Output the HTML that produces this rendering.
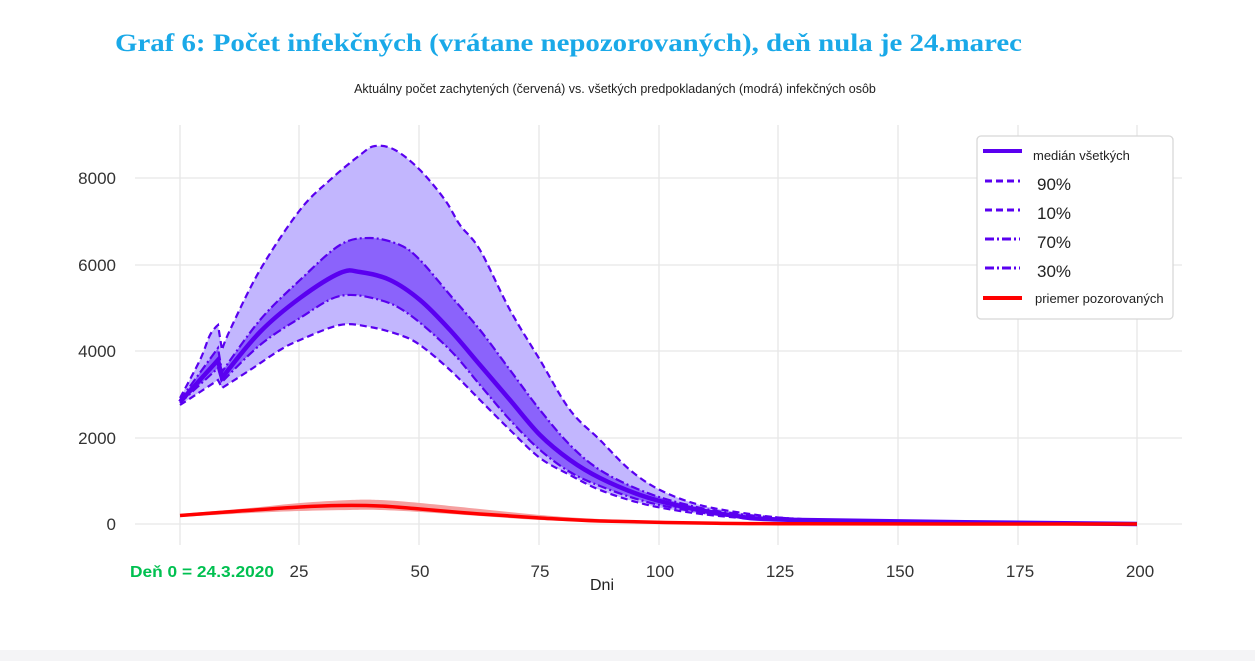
<!DOCTYPE html>
<html><head><meta charset="utf-8"><style>
body{margin:0;background:#fff;}
svg{display:block;font-family:"Liberation Sans",sans-serif;}
</style></head><body>
<svg width="1255" height="661" viewBox="0 0 1255 661">
<rect x="0" y="650" width="1255" height="11" fill="#f4f4f6"/>
<text x="115" y="51" font-family="Liberation Serif,serif" font-weight="bold" font-size="25" fill="#1aa9e8" textLength="907" lengthAdjust="spacingAndGlyphs">Graf 6: Počet infekčných (vrátane nepozorovaných), deň nula je 24.marec</text>
<text x="615" y="93" font-size="12.5" fill="#222" text-anchor="middle">Aktuálny počet zachytených (červená) vs. všetkých predpokladaných (modrá) infekčných osôb</text>
<g stroke="#e6e6e6" stroke-width="1.3">
<line x1="180" y1="125" x2="180" y2="545"/><line x1="299" y1="125" x2="299" y2="545"/><line x1="419" y1="125" x2="419" y2="545"/><line x1="539" y1="125" x2="539" y2="545"/><line x1="659" y1="125" x2="659" y2="545"/><line x1="778" y1="125" x2="778" y2="545"/><line x1="898" y1="125" x2="898" y2="545"/><line x1="1018" y1="125" x2="1018" y2="545"/><line x1="1137" y1="125" x2="1137" y2="545"/>
<line x1="135" y1="178" x2="1182" y2="178"/><line x1="135" y1="265" x2="1182" y2="265"/><line x1="135" y1="351" x2="1182" y2="351"/><line x1="135" y1="438" x2="1182" y2="438"/><line x1="135" y1="524" x2="1182" y2="524"/>
</g>
<g font-size="17" fill="#333" text-anchor="end">
<text x="116" y="184">8000</text><text x="116" y="271">6000</text><text x="116" y="357">4000</text><text x="116" y="444">2000</text><text x="116" y="530">0</text>
</g>
<g font-size="17" fill="#333" text-anchor="middle">
<text x="299" y="577">25</text><text x="420" y="577">50</text><text x="540" y="577">75</text><text x="660" y="577">100</text><text x="780" y="577">125</text><text x="900" y="577">150</text><text x="1020" y="577">175</text><text x="1140" y="577">200</text>
</g>
<text x="130" y="577" font-size="16" font-weight="bold" fill="#00c050" textLength="144" lengthAdjust="spacingAndGlyphs">Deň 0 = 24.3.2020</text>
<text x="602" y="590" font-size="16" fill="#222" text-anchor="middle">Dni</text>
<path id="b1" fill="#c2b6fe"/>
<path id="b2" fill="#8b63fb"/>
<g fill="none" stroke="#5a00f0" stroke-width="2.2">
<path id="u90" stroke-dasharray="7,4"/>
<path id="l10" stroke-dasharray="7,4"/>
<path id="u70" stroke-dasharray="9,3,2,3"/>
<path id="l30" stroke-dasharray="9,3,2,3"/>
<path id="med" stroke-width="4.5"/>
</g>
<path id="rb" fill="#f5a0a0"/>
<path id="rl" fill="none" stroke="#ff0000" stroke-width="3.5"/>
<rect x="977" y="136" width="196" height="183" rx="4" fill="#fff" stroke="#d8d8d8" stroke-width="1.3"/>
<g stroke-width="3">
<line x1="983" y1="151" x2="1022" y2="151" stroke="#5a00f0" stroke-width="4"/>
<line x1="985" y1="181" x2="1020" y2="181" stroke="#5a00f0" stroke-dasharray="7,4"/>
<line x1="985" y1="210" x2="1020" y2="210" stroke="#5a00f0" stroke-dasharray="7,4"/>
<line x1="985" y1="239" x2="1020" y2="239" stroke="#5a00f0" stroke-dasharray="9,3,2,3"/>
<line x1="985" y1="268" x2="1020" y2="268" stroke="#5a00f0" stroke-dasharray="9,3,2,3"/>
<line x1="983" y1="298" x2="1022" y2="298" stroke="#ff0000" stroke-width="4"/>
</g>
<g fill="#222">
<text x="1033" y="160" font-size="13">medián všetkých</text>
<text x="1037" y="190" font-size="17">90%</text>
<text x="1037" y="219" font-size="17">10%</text>
<text x="1037" y="248" font-size="17">70%</text>
<text x="1037" y="277" font-size="17">30%</text>
<text x="1035" y="303" font-size="13">priemer pozorovaných</text>
</g>
</svg>
<script>
function P(s){return s.trim().split(/\s+/).map(p=>p.split(',').map(Number));}
function sm(pts,start){let d=start?'M'+pts[0]:'L'+pts[0];
for(let i=0;i<pts.length-1;i++){const p0=pts[Math.max(0,i-1)],p1=pts[i],p2=pts[i+1],p3=pts[Math.min(pts.length-1,i+2)];
const sharp=(x)=>x[0]>=217&&x[0]<=223;
let k=1/6; let c1=[p1[0]+(p2[0]-p0[0])*k,p1[1]+(p2[1]-p0[1])*k],c2=[p2[0]-(p3[0]-p1[0])*k,p2[1]-(p3[1]-p1[1])*k];
if(sharp(p1))c1=p1; if(sharp(p2))c2=p2;
d+=' C'+c1+' '+c2+' '+p2;}return d;}
const u90=P("180,398 200,360 210,335 218,325 222,350 230,330 260,270 300,210 330,180 360,155 375,146 395,150 420,170 445,200 460,225 480,250 510,310 540,360 570,410 600,440 630,470 660,490 700,505 750,514 800,519 900,522 1000,523.5 1137,524");
const l10=P("180,405 200,392 218,380 222,388 250,370 280,350 300,340 340,325 370,327 400,335 420,345 450,370 480,400 510,430 540,458 570,475 600,490 640,503 680,511 730,517 800,521 900,523 1137,524");
const u70=P("180,400 218,348 222,372 260,320 300,280 340,245 370,238 400,245 420,260 450,295 480,330 510,370 540,410 570,445 600,470 640,490 680,503 730,513 800,519 900,523 1137,524");
const l30=P("180,403 218,368 222,382 260,345 300,318 340,296 380,300 410,315 450,350 480,385 510,420 540,450 570,472 600,486 640,500 680,509 730,516 800,520 1137,524");
const med=P("180,402 218,360 222,378 260,332 300,298 340,273 360,272 390,280 420,300 450,330 480,365 510,400 540,435 570,460 600,478 640,495 680,506 730,515 800,520 1137,524");
const ru=P("180,514 250,508 300,503 350,500 380,500 420,503 480,509 540,515 600,519 700,522 800,523.5 1137,524");
const rlw=P("180,517 250,513 300,511 350,510 380,510 420,512 480,516 540,520 600,522 700,523.5 800,524 1137,524");
const rl=P("180,515.5 240,511 300,507 340,505.5 380,506 420,509 480,514 540,518 600,521 700,523 800,523.8 1137,524");
const S=(id,d)=>document.getElementById(id).setAttribute('d',d);
S('u90',sm(u90,1));S('l10',sm(l10,1));S('u70',sm(u70,1));S('l30',sm(l30,1));S('med',sm(med,1));S('rl',sm(rl,1));
S('b1',sm(u90,1)+' '+sm(l10.slice().reverse(),0)+'Z');
S('b2',sm(u70,1)+' '+sm(l30.slice().reverse(),0)+'Z');
S('rb',sm(ru,1)+' '+sm(rlw.slice().reverse(),0)+'Z');
</script>
</body></html>
